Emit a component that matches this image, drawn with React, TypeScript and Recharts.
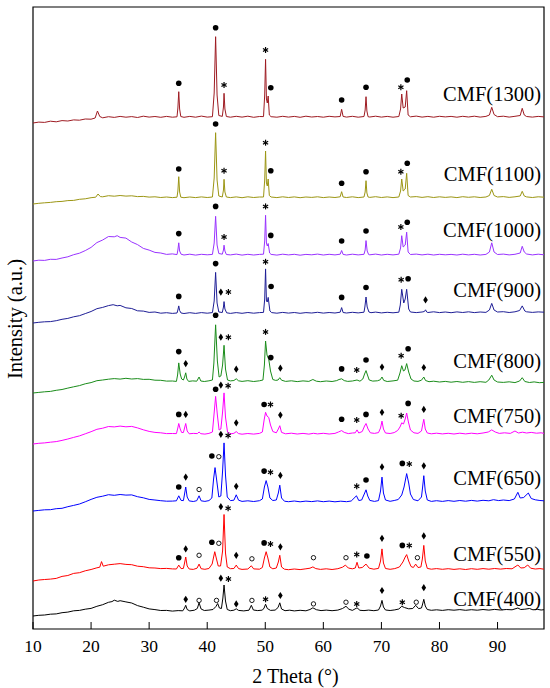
import React from "react";
import { ComposedChart, Line, Scatter, XAxis, YAxis, ReferenceArea } from "recharts";

type Pt = [number, number];
type Mk = [number, number, string];

const sampleNames = ["CMF(1300)", "CMF(1100)", "CMF(1000)", "CMF(900)", "CMF(800)", "CMF(750)", "CMF(650)", "CMF(550)", "CMF(400)"];
const traceColors = ["#9E1B22", "#9C9614", "#9933FF", "#1E1E96", "#1A8C1A", "#FF00FF", "#0000FF", "#FF0000", "#000000"];
// vertical stacking offset of each pattern (a.u.)
const offsets = [506, 425, 368, 306, 236, 185, 118, 48, 13];
const labelHeights = [29, 29.7, 31.6, 33, 31.9, 28.2, 32.8, 27.5, 16.7];
const xTicks = [10, 20, 30, 40, 50, 60, 70, 80, 90];

// 2θ (deg), intensity above each pattern's offset
const t1300: Pt[] = [[10,0],[11,0.9],[12,0.6],[13,1.8],[14,1.2],[15,2.4],[16,2],[17,3.1],[18,2.8],[19,4],[20,3.8],[20.7,5],[21.1,12],[21.5,6.5],[22,5.2],[23,6.3],[24,5.6],[25,6.6],[26,5.8],[27,6.4],[28,5.5],[29,6.8],[30,5.9],[31,6.5],[32,5.7],[33,6.6],[34,5.8],[34.8,6.2],[34.95,15],[35.1,31.3],[35.25,14],[35.45,6.5],[36,5.7],[37,6.6],[38,5.8],[39,6.9],[40,5.9],[40.9,6.3],[41.2,30],[41.45,86.3],[41.7,28],[42,7.5],[42.6,6.6],[42.8,16],[42.9,29.7],[43.05,14],[43.3,6.5],[44,5.8],[45,6.7],[46,5.9],[47,6.8],[48,5.7],[49,6.5],[49.7,6.4],[49.9,28],[50.05,63.7],[50.2,24],[50.35,20],[50.5,27],[50.7,8],[51,6.3],[52,5.8],[53,6.7],[54,5.9],[55,6.6],[56,5.7],[57,6.8],[58,6],[59,6.5],[60,5.8],[61,6.7],[62,6.1],[62.9,6.5],[63.15,13.7],[63.4,6.6],[64,5.9],[65,6.7],[66,5.8],[67,6.5],[67.2,13],[67.35,26.3],[67.5,12],[67.7,6.3],[68,6],[69,6.8],[70,5.9],[71,6.6],[72,5.8],[73,6.5],[73.3,14],[73.5,29],[73.75,15],[74.1,16],[74.35,32.3],[74.6,8],[75,6.2],[76,6.9],[77,5.9],[78,6.6],[79,5.8],[80,6.7],[81,6.1],[82,6.6],[83,5.8],[84,6.7],[85,6],[86,6.8],[87,5.9],[88,6.6],[88.6,8],[89,15.7],[89.4,8.5],[90,6.3],[91,6.8],[92,5.9],[93,6.7],[93.9,7.5],[94.25,14.7],[94.6,8],[95,6.5],[96,5.9],[97,6.6],[98,6.1]];
const t1100: Pt[] = [[10,0],[11,0.7],[12,1.2],[13,1.6],[14,2.3],[15,2.6],[16,3.4],[17,3.6],[18,4.7],[19,5.2],[20,6.3],[20.8,6.8],[21.2,10],[21.6,7.4],[22,7.2],[23,8.3],[24,7.8],[25,8.5],[26,7.9],[27,8.2],[28,7.4],[29,7.6],[30,6.9],[31,7.2],[32,6.5],[33,7],[34,6.4],[34.8,6.8],[34.95,13],[35.1,27.3],[35.25,12],[35.45,6.8],[36,6.3],[37,7],[38,6.4],[39,7.1],[40,6.5],[40.9,7],[41.2,26],[41.45,71.3],[41.7,24],[42,8],[42.6,7],[42.8,14],[42.9,24.7],[43.05,12],[43.3,7],[44,6.4],[45,7.1],[46,6.3],[47,7.2],[48,6.5],[49,7],[49.7,7],[49.9,24],[50.05,53],[50.2,21],[50.35,18],[50.5,25],[50.7,8.5],[51,7],[52,6.4],[53,7.2],[54,6.5],[55,7.1],[56,6.3],[57,7],[58,6.6],[59,7.2],[60,6.4],[61,7],[62,6.5],[62.9,7.2],[63.15,12.3],[63.4,7],[64,6.5],[65,7.2],[66,6.4],[67,7],[67.2,12],[67.35,23.3],[67.5,11],[67.7,7],[68,6.6],[69,7.3],[70,6.5],[71,7.1],[72,6.4],[73,7],[73.3,13],[73.5,25],[73.75,13],[74.1,15],[74.35,30.7],[74.6,8.5],[75,7],[76,7.4],[77,6.6],[78,7.3],[79,6.5],[80,7.2],[81,6.6],[82,7.1],[83,6.4],[84,7.3],[85,6.7],[86,7.2],[87,6.5],[88,7],[88.6,8.5],[89,14.7],[89.4,8.5],[90,7],[91,7.4],[92,6.6],[93,7.2],[93.9,8],[94.25,12.7],[94.6,8],[95,7.1],[96,6.5],[97,7.2],[98,6.8]];
const t1000: Pt[] = [[10,0],[11,0.8],[12,0.6],[13,1.7],[14,1.6],[15,3],[16,4.2],[17,6.3],[18,7.8],[19,10.4],[20,13.6],[21,18.4],[22,21],[23,24.5],[24,24.2],[24.5,25.3],[25,23.6],[26,22.9],[27,19],[28,16.4],[29,12.6],[30,10.9],[31,8.6],[32,8],[33,6.6],[34,7.1],[34.8,6.4],[34.95,11],[35.1,18.2],[35.25,10],[35.5,6.8],[36,6],[37,6.8],[38,5.9],[39,6.7],[40,6.2],[40.9,6.6],[41.2,18],[41.45,44.7],[41.7,16],[42,7.5],[42.6,6.8],[42.8,11],[42.9,15.8],[43.05,10],[43.3,6.5],[44,6.1],[45,6.9],[46,5.9],[47,6.7],[48,6],[49,6.6],[49.7,6.8],[49.9,20],[50.05,45.7],[50.2,18],[50.35,15],[50.5,17.5],[50.75,8],[51,6.6],[52,5.9],[53,6.8],[54,6.1],[55,6.7],[56,5.8],[57,6.6],[58,6.2],[59,6.9],[60,6],[61,6.7],[62,6.1],[62.9,6.8],[63.15,10.5],[63.4,6.6],[64,6],[65,6.8],[66,6.1],[67,6.7],[67.2,11],[67.35,20.4],[67.55,10],[67.8,6.5],[68,6.2],[69,6.9],[70,6],[71,6.7],[72,6.1],[73,6.8],[73.3,13],[73.5,25.3],[73.75,14],[74.1,16],[74.35,28.8],[74.6,9],[75,6.5],[76,6.9],[77,6.1],[78,6.8],[79,6],[80,6.7],[81,6.2],[82,6.6],[83,6],[84,6.8],[85,6.1],[86,6.7],[87,6],[88,6.6],[88.6,9],[89,18.2],[89.4,9],[90,6.5],[91,6.9],[92,6.1],[93,6.7],[93.9,8],[94.25,14.7],[94.6,9],[95,7],[96,6.1],[97,6.8],[98,6.2]];
const t900: Pt[] = [[10,0],[11,0.7],[12,1.2],[13,1.4],[14,2.3],[15,3.7],[16,4.6],[17,6.2],[18,7.3],[19,9.4],[20,11.5],[21,14.3],[22,15.6],[23,17.4],[23.8,18.3],[24.5,17.2],[25,17.6],[26,15.2],[27,14.5],[28,12.2],[29,11.9],[30,10.6],[31,11],[32,9.8],[33,10.3],[34,9.6],[34.8,10],[34.95,13],[35.1,17.1],[35.25,12.5],[35.5,10],[36,9.5],[37,10.3],[38,9.6],[39,10.4],[40,9.8],[40.9,10.4],[41.2,22],[41.45,50.6],[41.7,20],[42,11],[42.6,10.5],[42.8,16],[42.9,21.4],[43.05,14],[43.35,10.2],[44,9.6],[45,10.4],[46,9.7],[47,10.5],[48,9.8],[49,10.4],[49.7,10.6],[49.9,24],[50.05,54.1],[50.2,22],[50.35,21],[50.5,25.6],[50.8,12],[51.1,10.4],[52,9.8],[53,10.6],[54,9.9],[55,10.5],[56,9.7],[57,10.4],[58,10],[59,10.7],[60,9.9],[61,10.5],[62,10],[62.9,10.8],[63.15,15.4],[63.4,10.5],[64,10],[65,10.7],[66,10.1],[67,10.8],[67.15,16],[67.35,26],[67.55,16],[67.85,11],[68.2,10.3],[69,10.9],[70,10.1],[71,10.7],[72,10.2],[73,10.8],[73.25,18],[73.5,33.7],[73.85,20],[74.1,24],[74.35,33.7],[74.7,14],[75,11],[76,10.4],[77,11],[77.4,11.5],[77.6,13.2],[77.8,11],[78,10.5],[79,11.2],[80,10.4],[81,11],[82,10.3],[83,11.1],[84,10.5],[85,11.2],[86,10.4],[87,11],[88,10.6],[88.6,13],[89,19.6],[89.4,13],[90,11],[91,11.3],[92,10.5],[93,11.2],[93.8,12.5],[94.25,17.1],[94.7,12],[95,11.2],[96,10.6],[97,11.1],[98,10.8]];
const t800: Pt[] = [[10,0],[11,0.6],[12,1.2],[13,1.6],[14,2.7],[15,3.5],[16,4.9],[17,6.2],[18,7.4],[19,9.2],[20,10.4],[21,12.3],[22,13],[23,13.8],[24,14.4],[25,13.9],[26,14.7],[27,14],[28,14.4],[29,13.6],[30,13.7],[31,12.8],[32,12.7],[33,11.9],[34,12],[34.7,11.6],[34.9,18],[35.1,30.1],[35.35,19],[35.6,14],[35.9,13],[36.1,16],[36.3,20.2],[36.5,14],[36.8,11.6],[37.5,12.1],[38.2,11.8],[38.6,16],[38.9,12],[39.5,11.5],[40.3,12.2],[40.9,13],[41.15,30],[41.45,68.2],[41.75,32],[42.05,16],[42.35,17],[42.65,28],[42.9,47.7],[43.15,24],[43.5,13],[44,12.1],[44.6,12.5],[45,14.2],[45.4,12.2],[46,11.6],[47,12.3],[48,11.5],[49,12.2],[49.6,13],[49.85,28],[50.05,52],[50.3,38],[50.6,33.6],[50.9,22],[51.3,13.5],[51.8,12.6],[52.2,13],[52.5,15.3],[52.8,12.8],[53.5,11.6],[54.5,12.2],[55.5,11.4],[56.5,12.1],[57.5,11.6],[58.2,13.5],[58.8,11.8],[59.5,11.3],[60.5,12],[61.5,11.5],[62.3,12.4],[62.7,13.5],[63.15,14.2],[63.6,12.4],[64.2,11.6],[65,12],[65.8,13],[66.3,11.8],[66.8,14],[67.1,19],[67.35,22.4],[67.6,18],[67.9,13],[68.5,11.9],[69.3,12.2],[69.8,13.2],[70.1,16],[70.4,12.6],[71,11.5],[72,12.1],[72.8,12.8],[73.2,20],[73.5,27.3],[73.8,22],[74.05,23],[74.35,29.4],[74.7,21],[75.1,14],[75.6,12],[76.3,11.6],[76.9,12.8],[77.3,16],[77.6,12.5],[78.2,11.3],[79,11.8],[80,11],[81,11.6],[82,10.8],[83,11.5],[84,10.7],[85,11.4],[86,10.6],[87,11.3],[88,10.7],[88.5,13],[89,17.8],[89.4,13],[90,11],[91,10.6],[92,11.2],[93,10.4],[93.8,12],[94.25,15.3],[94.7,11.5],[95.5,10.5],[96.3,11.1],[97.2,10.3],[98,10.6]];
const t750: Pt[] = [[10,0],[11,0.7],[12,1.1],[13,1.8],[14,2.4],[15,3.6],[16,5],[17,6.6],[18,8.1],[19,10.2],[20,12.3],[21,14.7],[22,15.8],[23,17.5],[24,17.1],[25,17.9],[26,17.2],[27,17.6],[28,16.1],[29,14.2],[30,12.6],[31,11.6],[32,11.2],[33,10.4],[34,10.5],[34.7,10.4],[34.9,15],[35.1,20.5],[35.35,15],[35.6,11.5],[35.9,11.5],[36.1,16],[36.3,20.5],[36.55,13],[36.9,10.2],[37.6,10.6],[38.3,10.4],[38.6,12],[38.9,10.3],[39.6,9.9],[40.3,10.6],[40.9,12],[41.15,28],[41.45,47.6],[41.75,29],[42.05,14],[42.35,15],[42.65,32],[42.9,51.1],[43.15,27],[43.5,12],[44.1,10.2],[44.6,10.7],[45,12.4],[45.4,10.4],[46,9.8],[47,10.5],[48,9.9],[49,10.6],[49.5,12],[49.8,24],[50.05,31.7],[50.3,28],[50.6,26.5],[50.9,19],[51.3,12.5],[51.9,11.2],[52.25,15],[52.5,18.3],[52.8,11.6],[53.5,10.2],[54.5,10.8],[55.5,10],[56.5,10.6],[57.5,9.9],[58.3,10.7],[59,10.1],[60,10.7],[61,10],[62,10.6],[62.6,12],[63.15,13.4],[63.6,11.6],[64.3,10.4],[65,11],[65.5,11.2],[65.8,14.1],[66.1,11],[66.7,12.5],[67.1,18],[67.35,20.5],[67.7,15],[68.1,11.2],[68.8,10.6],[69.5,11.4],[69.85,16],[70.1,22.9],[70.35,15],[70.7,11],[71.5,10.5],[72.2,11.4],[72.8,13.5],[73.2,17],[73.5,21.2],[73.8,20],[74.1,25],[74.35,31],[74.65,22],[75,14],[75.6,11.2],[76.3,10.6],[76.9,13],[77.1,19],[77.3,24.7],[77.55,15],[77.9,11],[78.6,10.2],[79.5,10.8],[80.5,10.1],[81.5,10.7],[82.5,10],[83.5,10.8],[84.5,10.1],[85.5,10.8],[86.5,10.2],[87.5,11],[88.4,12],[89,14.1],[89.6,12],[90.3,10.6],[91.2,11.2],[92.2,10.6],[93,13],[93.6,11],[94.3,11.8],[95,11],[95.8,11.6],[96.7,10.8],[97.5,11.2],[98,10.6]];
const t650: Pt[] = [[10,0],[11,0.6],[12,1.2],[13,1.3],[14,2.3],[15,2.7],[16,4.3],[17,5.6],[18,7],[19,9.2],[20,11.6],[21,13.7],[22,14.8],[23,16.3],[24,15.7],[25,16.5],[26,15.9],[27,16.1],[28,14.3],[29,13.2],[30,11.6],[31,11],[32,10.3],[33,9.8],[34,9.9],[34.7,10.2],[35.1,15.2],[35.5,10.6],[35.9,10.4],[36.1,17],[36.3,24],[36.55,14],[36.9,10.1],[37.6,9.5],[38.2,10.3],[38.6,15.2],[38.95,10.2],[39.6,9.6],[40.3,10.4],[40.8,13],[41.1,32],[41.35,43.4],[41.65,30],[42,14],[42.35,15],[42.65,40],[42.9,68.1],[43.15,36],[43.45,14],[44,10.4],[44.6,10.8],[45,16.2],[45.4,10.8],[46,9.6],[47,10.2],[48,9.5],[49,10.3],[49.5,12],[49.85,24],[50.15,30.4],[50.45,24],[50.8,13],[51.3,10.5],[51.9,11],[52.25,18],[52.5,25.8],[52.8,13],[53.3,9.8],[54,9.3],[55,10],[56,9.2],[57,9.9],[58,9.4],[59,10.1],[60,9.3],[61,9.9],[62,9.2],[63,9.8],[64,9.3],[64.8,10],[65.7,15.2],[66.1,10.5],[66.6,11],[67.05,17],[67.35,21.2],[67.65,15],[68,10.6],[68.8,9.6],[69.5,10.4],[69.85,20],[70.1,33.9],[70.35,18],[70.7,11],[71.5,9.7],[72.2,10.5],[72.9,11.5],[73.5,16],[73.9,24],[74.35,37.4],[74.7,28],[75,17],[75.5,11.5],[76.3,10.2],[76.9,14],[77.1,24],[77.3,35.3],[77.55,20],[77.9,11],[78.6,9.6],[79.5,10.3],[80.5,9.6],[81.5,10.4],[82.5,9.7],[83.5,10.5],[84.5,9.8],[85.5,10.6],[86.5,9.9],[87.5,10.7],[88.5,10.2],[89.3,11.3],[90.2,10.4],[91,11],[92,10.4],[92.9,12],[93.5,18.7],[93.9,13],[94.5,13.5],[95.3,18],[95.8,12.5],[96.5,11.2],[97.3,10.5],[98,10.2]];
const t550: Pt[] = [[10,0],[11,1],[12,1.5],[13,1.9],[14,2.6],[15,4.6],[16,5.5],[17,7.6],[18,8.3],[19,10.2],[20,11.5],[21,13.2],[21.5,13.8],[21.8,19.4],[22.1,14.8],[23,16.2],[24,16.8],[25,17.4],[26,16.6],[27,16.3],[28,14.8],[29,14.3],[30,13.2],[31,13],[32,12.4],[33,12.6],[34,12.1],[34.7,12],[35.1,15.9],[35.5,12.4],[35.9,12.6],[36.1,18],[36.3,24],[36.55,15],[36.9,12],[37.6,11.6],[38.25,12.8],[38.6,16.9],[38.95,12.3],[39.6,11.7],[40.3,12.5],[40.85,17],[41.3,29.3],[41.6,22],[41.9,15],[42.3,15],[42.65,30],[42.9,66.5],[43.15,28],[43.45,14],[44,12.3],[44.6,12.5],[45,15.9],[45.4,12.4],[46,11.6],[47,12],[47.6,15.2],[48,12.1],[49,11.8],[49.5,13.5],[49.85,23],[50.15,29.3],[50.45,23],[50.8,14],[51.3,12.2],[51.9,13],[52.25,19],[52.5,25.7],[52.8,14],[53.3,11.8],[54,11.3],[55,12],[56,11.4],[57,12.2],[57.7,12.8],[58.2,14.1],[58.7,12.4],[59.5,11.6],[60.5,12.2],[61.5,11.5],[62.5,12.3],[63.3,13.8],[63.8,15.9],[64.3,13],[65,12.2],[65.5,13],[65.8,18.7],[66.1,13],[66.7,13.5],[67.35,16.9],[67.9,12.8],[68.7,11.8],[69.5,12.6],[69.85,20],[70.1,32.1],[70.35,18],[70.7,12.5],[71.5,11.7],[72.3,12.4],[73.1,14],[73.7,19],[74.1,24],[74.35,26.4],[74.7,20],[75.1,14.5],[75.5,13.5],[75.9,16.9],[76.3,13.5],[76.8,14],[77.05,22],[77.3,35.6],[77.55,20],[77.9,12.6],[78.6,11.8],[79.5,12.4],[80.5,11.7],[81.5,12.3],[82.5,11.6],[83.5,12.2],[84.5,11.5],[85.5,12.3],[86.5,11.7],[87.5,12.4],[88.5,11.8],[89.5,12.5],[90.5,11.9],[91.5,12.5],[92.5,12.2],[93.5,16],[94,13],[94.6,13.3],[95.2,16],[95.7,12.8],[96.5,12],[97.3,12.4],[98,11.8]];
const t400: Pt[] = [[10,0],[11,0.7],[12,1],[13,1.8],[14,2.1],[15,3.3],[16,3.9],[17,5.2],[18,5.6],[19,6.8],[20,7.6],[21,9.7],[22,11.3],[23,13.7],[23.6,14.4],[24,15.8],[24.6,14.6],[25,15.3],[26,14.1],[27,13],[28,10.4],[29,8.8],[30,7.1],[31,6.4],[32,5.5],[33,5.6],[34,4.9],[35,5.4],[35.8,5.2],[36.1,8],[36.3,10.7],[36.55,6.5],[37,5.1],[37.8,5.8],[38.3,7.5],[38.6,13.2],[38.95,7],[39.5,5.5],[40.3,5.9],[41,6.5],[41.5,9.5],[41.8,12.5],[42.1,8],[42.45,7.5],[42.7,18],[42.9,31],[43.15,15],[43.45,6.5],[44,5.3],[44.6,5.8],[45,7.2],[45.4,5.6],[46.3,5.1],[47.2,5.8],[47.6,10.7],[47.95,6],[48.7,5.4],[49.5,5.9],[49.8,8],[50.05,11.8],[50.35,7.5],[50.9,5.6],[51.7,5.9],[52.2,8.5],[52.5,13.2],[52.8,7],[53.4,5.3],[54.2,5.8],[55,5.1],[56,5.7],[57,5.2],[57.7,6.5],[58.2,8.2],[58.8,6.3],[59.6,5.4],[60.5,5.9],[61.5,5.3],[62.5,5.9],[63.3,7.5],[63.9,9.7],[64.4,6.8],[65,5.6],[65.8,8.2],[66.3,5.7],[67,5.4],[67.8,5.9],[68.7,5.3],[69.5,6],[69.85,10],[70.1,15.6],[70.35,9],[70.7,6],[71.5,5.5],[72.3,6.1],[73,7],[73.5,9.7],[74,8.4],[74.7,7.2],[75.4,7.5],[75.9,10.7],[76.4,7.4],[76.9,8],[77.1,12],[77.3,16.7],[77.55,10],[77.9,6.5],[78.6,5.7],[79.5,6.2],[80.5,5.6],[81.5,6.3],[82.5,5.8],[83.5,6.4],[84.5,5.7],[85.5,6.3],[86.5,5.8],[87.5,6.5],[88.5,5.9],[89.5,6.6],[90.5,6],[91.5,6.5],[92.5,6.2],[93.5,8],[94,6.5],[94.7,6.8],[95.5,7.5],[96.1,6.2],[96.9,6.6],[97.5,6],[98,6.3]];

// phase marks: d = filled circle, m = diamond, s = asterisk, o = open circle
const m1300: Mk[] = [[35.1,39.7,"d"],[41.45,95.3,"d"],[42.9,38,"s"],[50.05,73,"s"],[50.95,35.3,"d"],[63.15,23,"d"],[67.35,35.7,"d"],[73.35,35.7,"s"],[74.45,43,"d"]];
const m1100: Mk[] = [[35.1,35,"d"],[41.45,80,"d"],[42.9,33.3,"s"],[50.05,61.3,"s"],[50.95,33.3,"d"],[63.15,20.7,"d"],[67.35,32.3,"d"],[73.35,32.3,"s"],[74.45,40.7,"d"]];
const m1000: Mk[] = [[35.1,27.4,"d"],[41.45,54.6,"d"],[42.9,23.9,"s"],[50.05,54.6,"s"],[50.95,25.6,"d"],[63.15,20,"d"],[67.35,30,"d"],[73.35,34.1,"s"],[74.45,38.7,"d"]];
const m900: Mk[] = [[35.1,26.6,"d"],[41.45,59.4,"d"],[42.35,30.9,"m"],[43.65,30.9,"s"],[50.05,61.2,"s"],[51,36.5,"d"],[63.15,25.6,"d"],[67.35,35.5,"d"],[73.4,43.2,"s"],[74.6,44.3,"d"],[77.6,23.1,"m"]];
const m800: Mk[] = [[35.1,41.4,"d"],[36.3,29.4,"m"],[41.45,77.7,"d"],[42.35,55.8,"m"],[43.65,55.8,"s"],[45,23.8,"m"],[50.05,61.1,"s"],[50.95,35.4,"d"],[52.6,24.8,"m"],[63.15,24.1,"d"],[65.75,23,"s"],[67.35,33,"d"],[70.1,25.9,"m"],[73.4,37.2,"s"],[74.6,44.2,"d"],[77.3,25.5,"m"]];
const m750: Mk[] = [[35.1,29.6,"d"],[36.3,29.6,"m"],[41.45,54.7,"d"],[42.35,58.9,"m"],[43.6,58.2,"s"],[45,21.2,"m"],[49.8,39.5,"d"],[50.9,39.5,"s"],[52.6,28.9,"m"],[63.15,24.7,"d"],[65.75,24,"s"],[67.35,29.6,"d"],[70.1,31.7,"m"],[73.4,28.2,"s"],[74.6,40.6,"d"],[77.3,34.6,"m"]];
const m650: Mk[] = [[35.1,24,"d"],[36.3,33.9,"m"],[38.6,21.5,"o"],[40.8,55,"d"],[42,54.3,"o"],[42.35,76.7,"m"],[43.6,75.5,"s"],[45,24.7,"m"],[49.8,39.9,"d"],[50.9,38.8,"s"],[52.6,35.6,"m"],[65.75,24.7,"s"],[67.35,31,"d"],[70.1,44.1,"m"],[73.6,47.6,"d"],[74.8,46.9,"s"],[77.3,45.2,"m"]];
const m550: Mk[] = [[35.1,23.3,"d"],[36.3,32.1,"m"],[38.6,25.7,"o"],[40.8,38.8,"d"],[42,37.7,"o"],[42.35,74.3,"m"],[43.6,72.8,"s"],[45,25.7,"m"],[47.7,22.2,"o"],[49.8,38.1,"d"],[50.9,37,"s"],[52.6,34.2,"m"],[58.3,23.3,"o"],[63.9,23.3,"o"],[65.75,26.4,"s"],[67.5,25,"d"],[70.1,42.7,"m"],[73.6,35.6,"d"],[74.8,35.6,"s"],[76.2,23.3,"o"],[77.3,45.1,"m"]];
const m400: Mk[] = [[36.3,16.7,"m"],[38.6,15.6,"o"],[41.6,15.6,"o"],[42.35,37.8,"m"],[43.65,37.1,"s"],[45,12.1,"m"],[47.7,15.6,"o"],[50.05,16.7,"s"],[52.6,20.5,"m"],[58.3,12.1,"o"],[63.9,13.8,"o"],[65.75,12.1,"s"],[70.1,25.5,"m"],[73.6,13.8,"s"],[76,13.8,"o"],[77.3,28.3,"m"]];

const traces = [t1300, t1100, t1000, t900, t800, t750, t650, t550, t400];
const markerSets = [m1300, m1100, m1000, m900, m800, m750, m650, m550, m400];

const SERIF = "'Liberation Serif', 'Times New Roman', serif";
const serifStyle = { fontFamily: SERIF };

const seriesData = traces.map((t, i) => t.map(([x, v]) => ({ x, y: offsets[i] + v })));
const markerData = markerSets.flatMap((set, i) =>
  set.map(([x, v, sym]) => ({ x, y: offsets[i] + v, sym }))
);
const labelData = sampleNames.map((name, i) => ({ x: 97.48, y: offsets[i] + labelHeights[i], name }));

const PhaseMark = (props: any) => {
  const { cx, cy, payload } = props;
  if (payload.sym === "d") return <circle cx={cx} cy={cy} r={2.8} fill="#000" />;
  if (payload.sym === "o")
    return <circle cx={cx} cy={cy} r={2.2} fill="none" stroke="#000" strokeWidth={0.9} />;
  if (payload.sym === "m")
    return (
      <polygon
        points={`${cx},${cy - 3.6} ${cx + 2.3},${cy} ${cx},${cy + 3.6} ${cx - 2.3},${cy}`}
        fill="#000"
      />
    );
  return (
    <g stroke="#000" strokeWidth={1.2}>
      <line x1={cx} y1={cy - 3} x2={cx} y2={cy + 3} />
      <line x1={cx - 2.6} y1={cy - 1.5} x2={cx + 2.6} y2={cy + 1.5} />
      <line x1={cx - 2.6} y1={cy + 1.5} x2={cx + 2.6} y2={cy - 1.5} />
    </g>
  );
};

const SampleLabel = (props: any) => (
  <text x={props.cx} y={props.cy} dy="0.35em" textAnchor="end" fontSize={20.5} style={serifStyle} fill="#000">
    {props.payload.name}
  </text>
);

const XTick = (props: any) => {
  const { x, y, payload } = props;
  return (
    <g>
      <line x1={x} y1={y} x2={x} y2={y - 7} stroke="#000" strokeWidth={1} />
      <text x={x} y={y + 23} textAnchor="middle" fontSize={17.5} style={serifStyle} fill="#000">
        {payload.value}
      </text>
    </g>
  );
};

const App: React.FC = () => {
  return (
    <div style={{ position: "absolute", left: 0, top: 0, background: "#fff", fontFamily: SERIF }}>
      <ComposedChart width={550} height={688} margin={{ top: 7, right: 6, left: 0, bottom: 0 }}>
        <XAxis
          type="number"
          dataKey="x"
          domain={[10, 98]}
          ticks={xTicks}
          interval={0}
          height={59}
          axisLine={false}
          tickLine={false}
          tickSize={0}
          tickMargin={0}
          tick={<XTick />}
          label={{
            content: ({ viewBox }: any) => (
              <text
                x={viewBox.x + viewBox.width / 2 + 7}
                y={viewBox.y + viewBox.height - 5.5}
                textAnchor="middle"
                fontSize={20}
                style={serifStyle}
                fill="#000"
              >
                2 Theta (°)
              </text>
            ),
          }}
        />
        <YAxis
          type="number"
          dataKey="y"
          domain={[0, 622]}
          width={33}
          axisLine={false}
          tickLine={false}
          tick={false}
          label={{
            content: () => (
              <text
                transform="translate(21.5,319) rotate(-90)"
                textAnchor="middle"
                fontSize={20.5}
                style={serifStyle}
                fill="#000"
              >
                Intensity (a.u.)
              </text>
            ),
          }}
        />
        <ReferenceArea x1={10} x2={98} y1={0} y2={622} fill="none" stroke="#000" strokeWidth={1.2} />
        {seriesData.map((d, i) => (
          <Line
            key={sampleNames[i]}
            data={d}
            dataKey="y"
            type="linear"
            stroke={traceColors[i]}
            strokeWidth={1}
            dot={false}
            isAnimationActive={false}
          />
        ))}
        <Scatter data={markerData} shape={PhaseMark} isAnimationActive={false} />
        <Scatter data={labelData} shape={SampleLabel} isAnimationActive={false} />
      </ComposedChart>
    </div>
  );
};

export default App;
